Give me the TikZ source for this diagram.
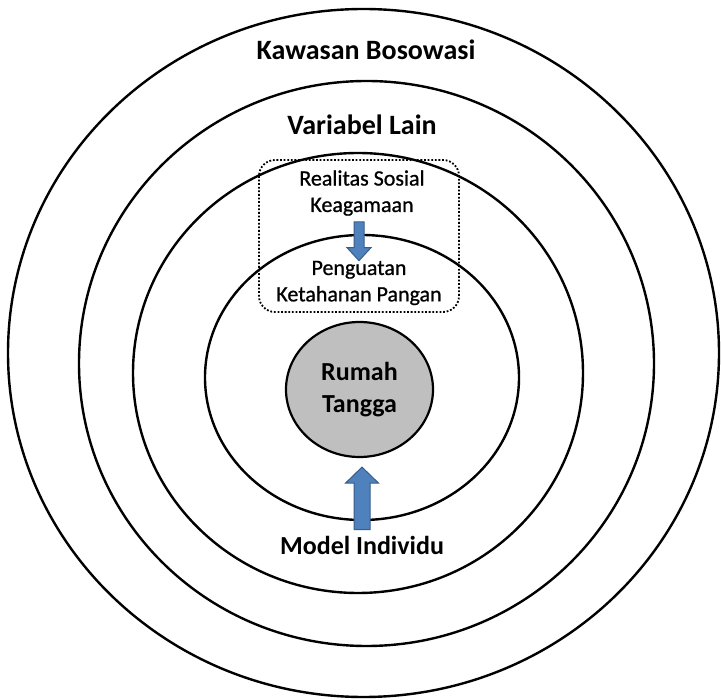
\documentclass[tikz,border=0pt]{standalone}
\usepackage{fontspec}
\setmainfont{Carlito}
\newfontfamily\labelfont[FakeBold=0.8]{Carlito}
\usepackage{tikz}
\usetikzlibrary{positioning,calc,shapes.geometric}
\definecolor{arrowfill}{HTML}{4F81BD}
\definecolor{arrowline}{HTML}{385D8A}
\definecolor{coregray}{HTML}{BFBFBF}

\begin{document}
\begin{tikzpicture}[
  x=1pt, y=-1pt,
  ring/.style={draw, line width=2.4pt},
  title/.style={font=\bfseries\fontsize{28}{33.6}\selectfont, inner sep=2pt},
  label/.style={align=center, font=\labelfont\fontsize{22}{26.4}\selectfont, inner sep=2pt},
  core/.style={ellipse, draw, line width=2.2pt, fill=coregray, minimum width=147pt, minimum height=135pt, align=center, font=\bfseries\fontsize{26}{31.2}\selectfont, inner sep=0pt},
  group/.style={draw, line width=1.8pt, dash pattern=on 1.8pt off 1.8pt, rounded corners=16pt},
  blockarr/.style={draw=arrowline, fill=arrowfill, line width=1pt, line join=miter}
]
\useasboundingbox (0,0) rectangle (721,700);

% rings
\draw[ring] (363.5,353) ellipse [x radius=355.5, y radius=344];
\draw[ring] (366.5,363.5) ellipse [x radius=287.5, y radius=282.5];
\draw[ring] (358,373) ellipse [x radius=225, y radius=220];
\draw[ring] (362,377.5) ellipse [x radius=157, y radius=142.5];

\node[title] (kawasan) at (366,50) {Kawasan Bosowasi};
\node[title] (variabel) at (362,125) {Variabel Lain};

% dotted group
\draw[group] (259,160) rectangle (459,312);
\node[label] (real) at (362,193) {Realitas Sosial\\Keagamaan};
\node[label] (peng) at (359,283) {Penguatan\\Ketahanan Pangan};

\node[core] (rumah) at (359.5,389.5) {Rumah\\Tangga};
\node[title, font=\bfseries\fontsize{26}{31.2}\selectfont] (model) at (362,545) {Model Individu};

% arrows
\draw[blockarr] let \p1=([yshift=-4pt]real.south), \p2=([yshift=-2pt]peng.north) in
  (\x2-5pt,\y1) -- (\x2+5pt,\y1) -- (\x2+5pt,\y2+13pt) -- (\x2+12pt,\y2+13pt)
  -- (\x2,\y2) -- (\x2-12pt,\y2+13pt) -- (\x2-5pt,\y2+13pt) -- cycle;
\draw[blockarr] let \p1=([yshift=4pt]model.north), \p2=([yshift=-9pt]rumah.south) in
  (\x1-8pt,\y1) -- (\x1+8pt,\y1) -- (\x1+8pt,\y2-16pt) -- (\x1+16.5pt,\y2-16pt)
  -- (\x1,\y2) -- (\x1-16.5pt,\y2-16pt) -- (\x1-8pt,\y2-16pt) -- cycle;
\end{tikzpicture}
\end{document}
